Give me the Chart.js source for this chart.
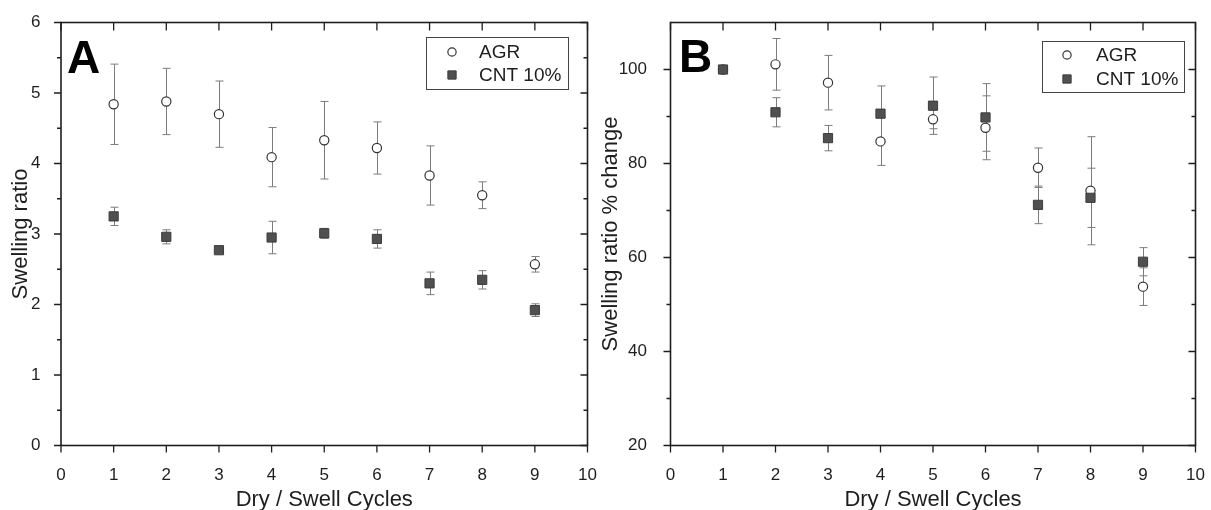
<!DOCTYPE html>
<html>
<head>
<meta charset="utf-8">
<script src="https://cdn.jsdelivr.net/npm/chart.js@4.4.0/dist/chart.umd.min.js"></script>
<style>
  html, body { margin: 0; padding: 0; background: #fff; }
  #wrap { position: relative; width: 1211px; height: 510px; overflow: hidden; }
  canvas { position: absolute; top: 0; }
  #chartA { left: 0; }
  #chartB { left: 595px; }
</style>
</head>
<body>
<div id="wrap">
  <canvas id="chartA" width="600" height="510"></canvas>
  <canvas id="chartB" width="616" height="510"></canvas>
</div>
<script>
// dry/swell cycle numbers
const cycles = [1, 2, 3, 4, 5, 6, 7, 8, 9];

// panel A: swelling ratio (mean and +/- error)
const agrRatio = [4.84, 4.88, 4.70, 4.09, 4.33, 4.22, 3.83, 3.55, 2.57];
const agrRatioErr = [0.57, 0.47, 0.47, 0.42, 0.55, 0.37, 0.42, 0.19, 0.11];
const cntRatio = [3.25, 2.96, 2.77, 2.95, 3.01, 2.93, 2.30, 2.35, 1.92];
const cntRatioErr = [0.13, 0.10, 0.03, 0.23, 0.07, 0.13, 0.16, 0.13, 0.09];

// panel B: swelling ratio % change relative to cycle 1
const agrPct = [100, 101.1, 97.2, 84.7, 89.4, 87.6, 79.1, 74.2, 53.8];
const agrPctErr = [0, 5.5, 5.8, 5.1, 2.0, 6.8, 4.2, 11.5, 4.0];
const cntPct = [100, 90.9, 85.4, 90.6, 92.3, 89.8, 71.2, 72.7, 59.1];
const cntPctErr = [0, 3.1, 2.7, 5.9, 6.1, 7.2, 4.0, 6.3, 3.0];

const seriesNames = ['AGR', 'CNT 10%'];
const xTicks = [0, 1, 2, 3, 4, 5, 6, 7, 8, 9, 10];
const yTicksA = [0, 1, 2, 3, 4, 5, 6];
const yMinorA = [0.5, 1.5, 2.5, 3.5, 4.5, 5.5];
const yTicksB = [20, 40, 60, 80, 100];
const yMinorB = [30, 50, 70, 90];

const FONT = '"Liberation Sans", Arial, sans-serif';
const INK = '#1e1e1e';

const agrStyle = { pointStyle: 'circle', radius: 4.6, borderWidth: 1.2, fill: '#ffffff', stroke: '#333333' };
const cntStyle = { pointStyle: 'rect', radius: 6.5, borderWidth: 1, fill: '#505050', stroke: '#3c3c3c' };

function toPoints(ys) {
  return cycles.map((c, i) => ({ x: c, y: ys[i] }));
}

// vertical error bars with caps, drawn under the markers
function errorBarPlugin(errs) {
  return {
    id: 'errorBars',
    beforeDatasetsDraw(chart) {
      const ctx = chart.ctx;
      const xs = chart.scales.x, ys = chart.scales.y;
      ctx.save();
      ctx.strokeStyle = '#7c7c7c';
      ctx.lineWidth = 1;
      chart.data.datasets.forEach((ds, di) => {
        ds.data.forEach((p, i) => {
          const e = errs[di][i];
          if (!e) return;
          const x = Math.round(xs.getPixelForValue(p.x)) + 0.5;
          const y1 = ys.getPixelForValue(p.y + e);
          const y2 = ys.getPixelForValue(p.y - e);
          ctx.beginPath();
          ctx.moveTo(x, y1); ctx.lineTo(x, y2);
          ctx.moveTo(x - 4, y1); ctx.lineTo(x + 4, y1);
          ctx.moveTo(x - 4, y2); ctx.lineTo(x + 4, y2);
          ctx.stroke();
        });
      });
      ctx.restore();
    }
  };
}

// box frame with outward ticks on left/bottom and inward ticks on top/right
function framePlugin(minorY) {
  return {
    id: 'frame',
    afterDatasetsDraw(chart) {
      const ctx = chart.ctx;
      const { left, right, top, bottom } = chart.chartArea;
      const xs = chart.scales.x, ys = chart.scales.y;
      ctx.save();
      ctx.strokeStyle = INK;
      ctx.lineWidth = 1.6;
      ctx.strokeRect(left, top, right - left, bottom - top);
      ctx.lineWidth = 1.3;
      ctx.beginPath();
      xs.ticks.forEach(t => {
        const x = xs.getPixelForValue(t.value);
        ctx.moveTo(x, bottom); ctx.lineTo(x, bottom + 7);
        ctx.moveTo(x, top); ctx.lineTo(x, top + 8);
      });
      ys.ticks.forEach(t => {
        const y = ys.getPixelForValue(t.value);
        ctx.moveTo(left - 7, y); ctx.lineTo(left, y);
        ctx.moveTo(right - 7, y); ctx.lineTo(right, y);
      });
      minorY.forEach(v => {
        const y = ys.getPixelForValue(v);
        ctx.moveTo(left - 4, y); ctx.lineTo(left, y);
        ctx.moveTo(right - 4, y); ctx.lineTo(right, y);
      });
      ctx.stroke();
      ctx.restore();
    }
  };
}

// panel letter and boxed legend inside the plot
function legendPlugin(letter, lx, ly, box, mx, tx, rowY) {
  return {
    id: 'boxLegend',
    afterDraw(chart) {
      const ctx = chart.ctx;
      ctx.save();
      ctx.fillStyle = '#000';
      ctx.font = 'bold 46px ' + FONT;
      ctx.textBaseline = 'alphabetic';
      ctx.fillText(letter, lx, ly);

      ctx.strokeStyle = '#444';
      ctx.lineWidth = 1;
      ctx.strokeRect(box[0] + 0.5, box[1] + 0.5, box[2], box[3]);

      [agrStyle, cntStyle].forEach((st, i) => {
        ctx.fillStyle = st.fill;
        ctx.strokeStyle = st.stroke;
        ctx.lineWidth = st.borderWidth;
        Chart.helpers.drawPoint(ctx, { pointStyle: st.pointStyle, radius: st.radius * 0.9, borderWidth: st.borderWidth, rotation: 0 }, mx, rowY[i]);
        ctx.fillStyle = INK;
        ctx.font = '19px ' + FONT;
        ctx.textBaseline = 'middle';
        ctx.fillText(seriesNames[i], tx, rowY[i] + 1);
      });
      ctx.restore();
    }
  };
}

function makeDatasets(agr, cnt) {
  return [
    {
      label: seriesNames[0],
      data: toPoints(agr),
      order: 1,
      pointStyle: agrStyle.pointStyle,
      pointRadius: agrStyle.radius,
      pointBorderWidth: agrStyle.borderWidth,
      pointBackgroundColor: agrStyle.fill,
      pointBorderColor: agrStyle.stroke
    },
    {
      label: seriesNames[1],
      data: toPoints(cnt),
      order: 0,
      pointStyle: cntStyle.pointStyle,
      pointRadius: cntStyle.radius,
      pointBorderWidth: cntStyle.borderWidth,
      pointBackgroundColor: cntStyle.fill,
      pointBorderColor: cntStyle.stroke
    }
  ];
}

function makeChart(id, cfg) {
  const ctx = document.getElementById(id).getContext('2d');
  return new Chart(ctx, {
    type: 'scatter',
    data: { datasets: makeDatasets(cfg.agr, cfg.cnt) },
    options: {
      responsive: false,
      animation: false,
      devicePixelRatio: 1,
      layout: { padding: { left: 0, top: 22.5, right: cfg.padRight, bottom: 0 } },
      plugins: { legend: { display: false }, tooltip: { enabled: false } },
      scales: {
        x: {
          type: 'linear',
          min: 0, max: 10,
          afterBuildTicks: s => { s.ticks = xTicks.map(v => ({ value: v })); },
          afterFit: s => { s.height = 64.5; s.paddingLeft = 0; s.paddingRight = 0; },
          grid: { display: false },
          border: { display: false },
          ticks: { color: INK, padding: 12, font: { family: FONT, size: 17 } },
          title: {
            display: true, text: 'Dry / Swell Cycles', color: INK,
            font: { family: FONT, size: 22, lineHeight: 1 },
            padding: { top: 0, bottom: -1 }
          }
        },
        y: {
          type: 'linear',
          min: cfg.yMin, max: cfg.yMax,
          afterBuildTicks: s => { s.ticks = cfg.yTicks.map(v => ({ value: v })); },
          afterFit: s => { s.width = cfg.yWidth; s.paddingTop = 0; s.paddingBottom = 0; },
          grid: { display: false },
          border: { display: false },
          ticks: { color: INK, padding: cfg.yPad, font: { family: FONT, size: 17 } },
          title: {
            display: true, text: cfg.yTitle, color: INK,
            font: { family: FONT, size: 22, lineHeight: 1 },
            padding: { top: cfg.titlePad, bottom: 0 }
          }
        }
      }
    },
    plugins: [
      errorBarPlugin(cfg.errs),
      framePlugin(cfg.minorY),
      legendPlugin(cfg.letter, cfg.letterX, cfg.letterY, cfg.box, cfg.markerX, cfg.textX, cfg.rowY)
    ]
  });
}

document.addEventListener('DOMContentLoaded', function () {
  makeChart('chartA', {
    agr: agrRatio, cnt: cntRatio, errs: [agrRatioErr, cntRatioErr],
    yMin: 0, yMax: 6, yTicks: yTicksA, minorY: yMinorA,
    yTitle: 'Swelling ratio', yWidth: 61, yPad: 12.5, titlePad: 10, padRight: 12.5,
    letter: 'A', letterX: 67, letterY: 73,
    box: [426, 37, 142, 52], markerX: 452, textX: 479, rowY: [52, 75]
  });

  makeChart('chartB', {
    agr: agrPct, cnt: cntPct, errs: [agrPctErr, cntPctErr],
    yMin: 20, yMax: 110, yTicks: yTicksB, minorY: yMinorB,
    yTitle: 'Swelling ratio % change', yWidth: 75.5, yPad: 15.5, titlePad: 5, padRight: 15.5,
    letter: 'B', letterX: 84, letterY: 72,
    box: [447, 41, 142, 51], markerX: 472, textX: 501, rowY: [55, 79]
  });
});
</script>
</body>
</html>
